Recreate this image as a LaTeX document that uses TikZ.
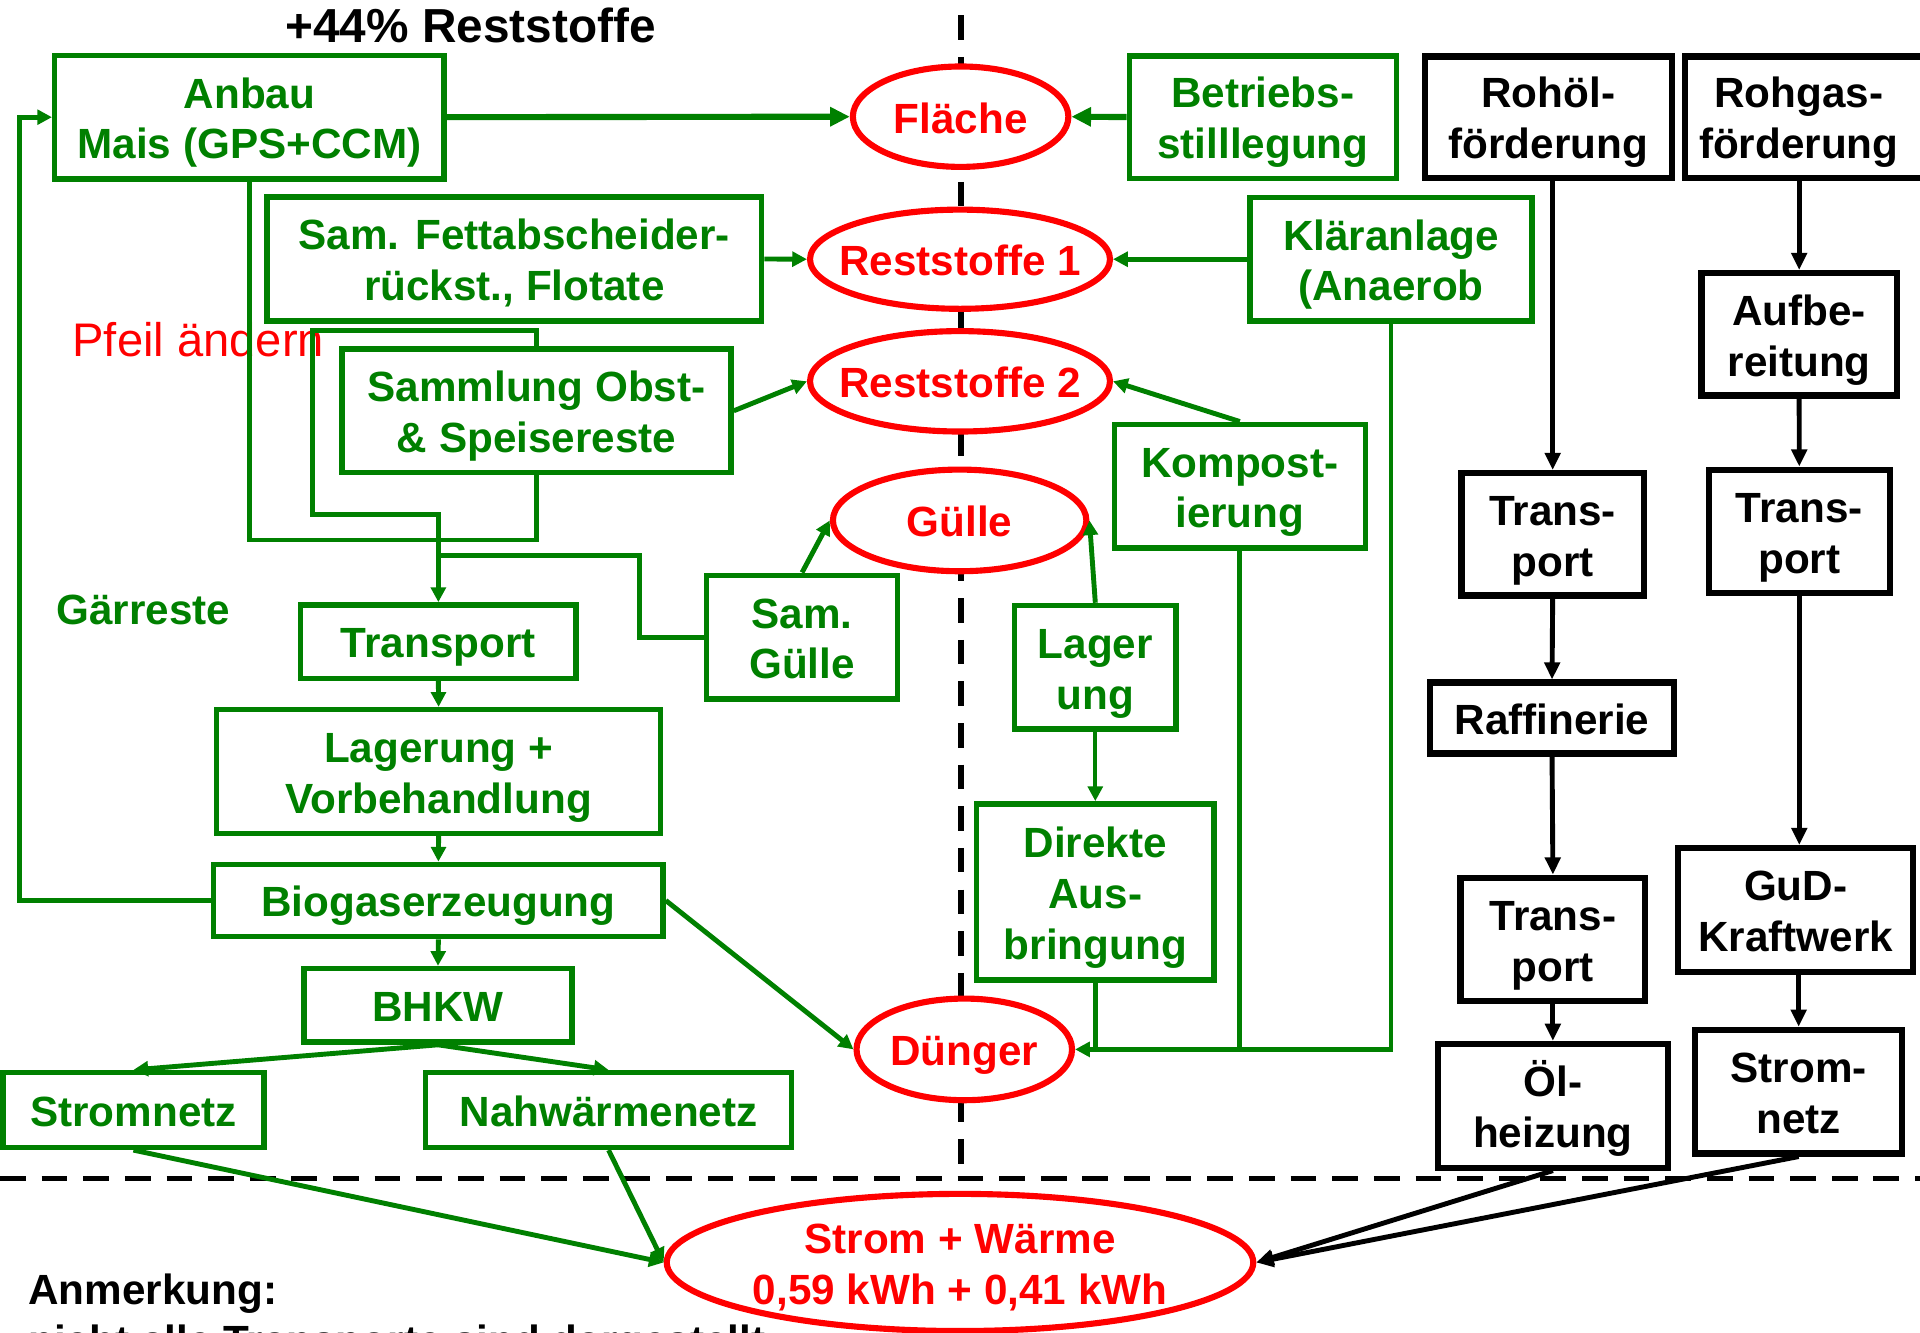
\documentclass[tikz,border=0pt]{standalone}
\usepackage{fontspec}
\setmainfont{Liberation Sans}
\usetikzlibrary{shapes.geometric,arrows.meta}
\definecolor{ggreen}{RGB}{0,128,0}
\definecolor{rred}{RGB}{255,0,0}
\newcommand{\ms}{\rule[-7.3pt]{0pt}{41.3pt}}
\begin{document}
\begin{tikzpicture}[x=1pt,y=-1pt,
  txt/.style={font=\bfseries\fontsize{34.5}{41.5}\selectfont, align=center, inner sep=0pt},
  lbl/.style={font=\bfseries\fontsize{34.5}{41.5}\selectfont, inner sep=0pt, anchor=base west},
  gbox/.style={txt, rectangle, draw=ggreen, text=ggreen, line width=4.5pt},
  bbox/.style={txt, rectangle, draw=black, text=black, line width=5pt},
  rell/.style={txt, ellipse, draw=rred, text=rred, fill=white, line width=5pt},
  gline/.style={draw=ggreen, line width=4pt},
  garr/.style={gline, -{Triangle[length=12pt,width=12pt]}},
  garrbig/.style={draw=ggreen, line width=5pt, -{Triangle[length=16pt,width=15pt]}},
  barr/.style={draw=black, line width=4pt, -{Triangle[length=14pt,width=12.5pt]}},
  vdash/.style={draw=black, line width=4.5pt, dash pattern=on 20pt off 14pt},
  hdash/.style={draw=black, line width=4pt, dash pattern=on 21pt off 13pt},
]
\useasboundingbox (0,0) rectangle (1568,1088.6);
\clip (0,0) rectangle (1568,1088.6);

% dashed separators
\coordinate (vtop) at (784.6,12.5);
\coordinate (vbot) at (784.6,962);
\coordinate (hl) at (0,962.3);
\coordinate (hr) at (1568,962.3);
\draw[vdash] (vtop) -- (vbot);
\draw[hdash] (hl) -- (hr);

% green boxes
\node[gbox, minimum width=318pt, minimum height=101pt] (anbau) at (203.7,95.7) {\ms Anbau\\\ms Mais (GPS+CCM)};
\node[gbox, minimum width=404pt, minimum height=101pt] (fett) at (420,211.5) {\ms Sam. Fettabscheider-\\\ms rückst., Flotate};
\node[gbox, minimum width=317.5pt, minimum height=101pt] (sammlung) at (438.2,335.5) {\ms Sammlung Obst-\\\ms\& Speisereste};
\node[gbox, minimum width=225pt, minimum height=60pt] (transport) at (358,524) {\ms Transport};
\node[gbox, minimum width=362.5pt, minimum height=101pt] (lagerung) at (358.2,630) {\ms Lagerung +\\\ms Vorbehandlung};
\node[gbox, minimum width=367pt, minimum height=59pt] (biogas) at (358,735.4) {\ms Biogaserzeugung};
\node[gbox, minimum width=218.5pt, minimum height=60pt] (bhkw) at (357.7,821) {\ms BHKW};
\node[gbox, minimum width=213pt, minimum height=61pt] (stromnetz) at (109,906.5) {\ms Stromnetz};
\node[gbox, minimum width=299pt, minimum height=61pt] (nahw) at (497,906.5) {\ms Nahwärmenetz};
\node[gbox, minimum width=156pt, minimum height=101pt] (samguelle) at (655,520.3) {\ms Sam.\\\ms Gülle};
\node[gbox, minimum width=218pt, minimum height=100pt] (betriebs) at (1031.3,95.6) {\ms Betriebs-\\\ms stilllegung};
\node[gbox, minimum width=230pt, minimum height=101pt] (klaer) at (1136,211.7) {\ms Kläranlage\\\ms (Anaerob};
\node[gbox, minimum width=205pt, minimum height=101pt] (kompost) at (1012.5,397) {\ms Kompost-\\\ms ierung};
\node[gbox, minimum width=132pt, minimum height=101pt] (lager) at (894.5,545) {\ms Lager\\\ms ung};
\node[gbox, minimum width=193.7pt, minimum height=144pt] (direkte) at (894.5,728.5) {\ms Direkte\\\ms Aus-\\\ms bringung};

% black boxes
\node[bbox, minimum width=202pt, minimum height=99pt] (rohoel) at (1264.4,95.6) {\ms Rohöl-\\\ms förderung};
\node[bbox, minimum width=204pt, minimum height=99pt] (rohgas) at (1478,95.6) {\ms Rohgas-\hspace*{18pt}\\\ms förderung\hspace*{18pt}};
\node[bbox, minimum width=159.6pt, minimum height=100pt] (aufb) at (1469.3,273) {\ms Aufbe-\\\ms reitung};
\node[bbox, minimum width=149pt, minimum height=100pt] (trans1) at (1268,436.3) {\ms Trans-\\\ms port};
\node[bbox, minimum width=148pt, minimum height=101pt] (trans2) at (1469.4,434) {\ms Trans-\\\ms port};
\node[bbox, minimum width=199pt, minimum height=58pt] (raff) at (1267.5,586.4) {\ms Raffinerie};
\node[bbox, minimum width=151pt, minimum height=101pt] (trans3) at (1268.2,767.2) {\ms Trans-\\\ms port};
\node[bbox, minimum width=192pt, minimum height=101pt] (gud) at (1466.5,743) {\ms GuD-\\\ms Kraftwerk};
\node[bbox, minimum width=188pt, minimum height=101pt] (oel) at (1268.2,903) {\ms Öl-\\\ms heizung};
\node[bbox, minimum width=169pt, minimum height=101pt] (strom2) at (1468.9,891.5) {\ms Strom-\\\ms netz};

% red ellipses
\node[rell, minimum width=176pt, minimum height=82pt] (flaeche) at (784.5,95.3) {\ms\makebox[0pt]{Fläche}};
\node[rell, minimum width=245pt, minimum height=81pt] (rs1) at (784,211.7) {\ms\makebox[0pt]{Reststoffe 1}};
\node[rell, minimum width=245pt, minimum height=82pt] (rs2) at (784,311.4) {\ms\makebox[0pt]{Reststoffe 2}};
\node[rell, minimum width=207pt, minimum height=83pt] (guelle) at (783.7,425) {\ms\makebox[0pt]{Gülle}};
\node[rell, minimum width=176pt, minimum height=83pt] (duenger) at (787.5,857) {\ms\makebox[0pt]{Dünger}};
\node[rell, inner ysep=-20pt, minimum width=479pt, minimum height=112pt] (sw) at (784,1031) {\ms\makebox[0pt]{Strom + Wärme}\\\ms\makebox[0pt]{0,59 kWh + 0,41 kWh}};

% free labels
\node[lbl, font=\bfseries\fontsize{39}{46}\selectfont] (title) at (233,35) {+44\% Reststoffe};
\node[lbl, font=\fontsize{38.5}{46}\selectfont, text=rred] (pfeil) at (59,291.5) {Pfeil ändern};
\node[lbl, text=ggreen] (gaer) at (46,510) {Gärreste};
\node[lbl] (anm) at (23,1065) {Anmerkung:};
\node[lbl] (nicht) at (23,1106.7) {nicht alle Transporte sind dargestellt};

% green connectors
\draw[garrbig] (anbau.east) -- (flaeche.west);
\draw[garrbig] (betriebs.west) -- (flaeche.east);
\draw[garr] (fett.east) -- (rs1.west);
\draw[garr] (klaer.west) -- (rs1.east);
\draw[garr] (sammlung.east) -- (rs2.west);
\draw[garr] (kompost.north) -- (rs2.east);
\draw[garr] (samguelle.north) -- (guelle.west);
\draw[garr] (lager.north) -- (guelle.east);
\draw[garr, line width=3.5pt] (lager.south) -- (direkte.north);
\draw[gline] (anbau.south) -- (anbau.south |- 0,441) -- (sammlung.south |- 0,441) -- (sammlung.south);
\draw[garr] (sammlung.north) -- (sammlung.north |- 0,270) -- (255,270) -- (255,420) -- (transport.north |- 0,420) -- (transport.north);
\draw[gline] (samguelle.west) -- (522.5,520.3) -- (522.5,453.3) -- (transport.north |- 0,453.3);
\draw[garr] (transport.south) -- (lagerung.north);
\draw[garr] (lagerung.south) -- (biogas.north);
\draw[garr] (biogas.south) -- (bhkw.north);
\draw[garr] (biogas.west) -- (16,735.4) -- (16,95.7) -- (anbau.west);
\draw[garr] (biogas.east) -- (duenger.west);
\draw[garr] (bhkw.south) -- (stromnetz.north);
\draw[garr] (bhkw.south) -- (nahw.north);
\draw[garr] (stromnetz.south) -- (sw.west);
\draw[garr] (nahw.south) -- (sw.west);
\draw[garr] (klaer.south) -- (klaer.south |- duenger.east) -- (duenger.east);
\draw[gline] (kompost.south) -- (kompost.south |- duenger.east);
\draw[gline] (direkte.south) -- (direkte.south |- duenger.east);

% black connectors
\draw[barr] (trans1.north |- rohoel.south) -- (trans1.north);
\draw[barr] (aufb.north |- rohgas.south) -- (aufb.north);
\draw[barr] (aufb.south) -- (trans2.north);
\draw[barr] (trans1.south) -- (raff.north);
\draw[barr] (raff.south) -- (trans3.north);
\draw[barr] (trans3.south) -- (trans3.south |- oel.north);
\draw[barr] (trans2.south) -- (trans2.south |- gud.north);
\draw[barr] (strom2.north |- gud.south) -- (strom2.north);
\draw[barr] (oel.south) -- (sw.east);
\draw[barr] (strom2.south) -- (sw.east);
\end{tikzpicture}
\end{document}
